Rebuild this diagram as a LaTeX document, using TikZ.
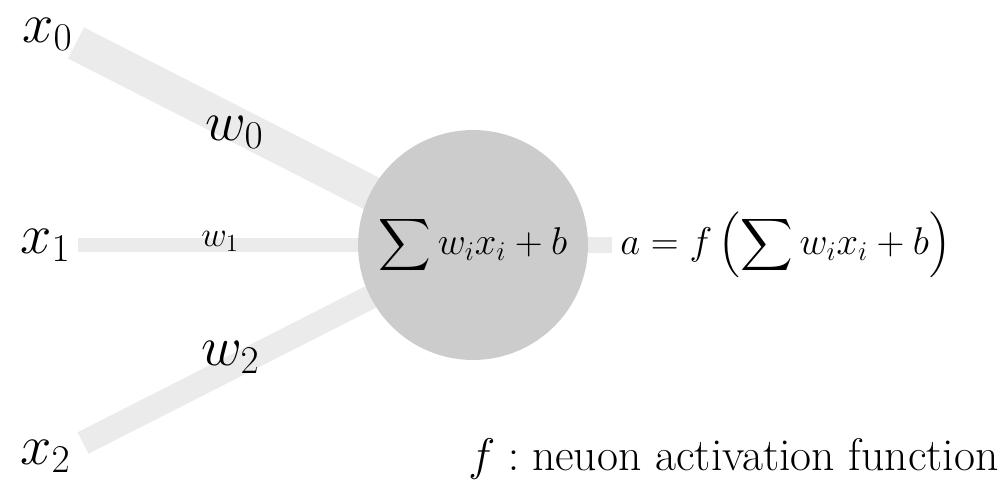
\RequirePackage{fix-cm}
\documentclass[tikz,border=0pt]{standalone}
\usepackage{amsmath}
\usetikzlibrary{backgrounds}
\definecolor{bandgray}{HTML}{EBEBEB}
\definecolor{cellgray}{HTML}{CCCCCC}
\tikzset{
  band/.style={draw=bandgray, line cap=butt},
  lbl/.style={inner sep=0pt, anchor=base west},
  big/.style={font=\fontsize{32}{38}\selectfont},
  mid/.style={font=\fontsize{32}{38}\selectfont},
  small/.style={font=\fontsize{20}{24}\selectfont},
  eq/.style={font=\fontsize{22}{26}\selectfont},
  note/.style={font=\fontsize{26}{30}\selectfont},
  neuron/.style={circle, fill=cellgray, minimum size=4.6cm, inner sep=0pt}
}
\begin{document}
\begin{tikzpicture}[x=0.02cm, y=-0.02cm]
\useasboundingbox (0,0) rectangle (1003,490);
\node[neuron, eq] (n) at (473,245) {$\displaystyle\sum w_i x_i + b$};
\coordinate (s0) at (76,43);
\coordinate (s1) at (78,245);
\coordinate (s2) at (83,443);
\coordinate (o) at (612,245);
\begin{pgfonlayer}{background}
\draw[band, line width=0.7cm] (s0) -- (n.center);
\draw[band, line width=0.28cm] (s1) -- (n.center);
\draw[band, line width=0.48cm] (s2) -- (n.center);
\draw[band, line width=0.32cm] (n.center) -- (o);
\end{pgfonlayer}
\node[lbl, big] (x0) at (22,42) {$x_0$};
\node[lbl, big] (x1) at (20,253) {$x_1$};
\node[lbl, big] (x2) at (20,464) {$x_2$};
\node[lbl, mid] (w0) at (205,140) {$w_0$};
\node[lbl, small] (w1) at (201,246) {$w_1$};
\node[lbl, mid] (w2) at (201,365) {$w_2$};
\node[eq, inner sep=0pt, anchor=west] (a) at (620,245) {$a = f\left(\displaystyle\sum w_i x_i + b\right)$};
\node[note, lbl] (fn) at (468,470) {$f:\text{neuon activation function}$};
\end{tikzpicture}
\end{document}
